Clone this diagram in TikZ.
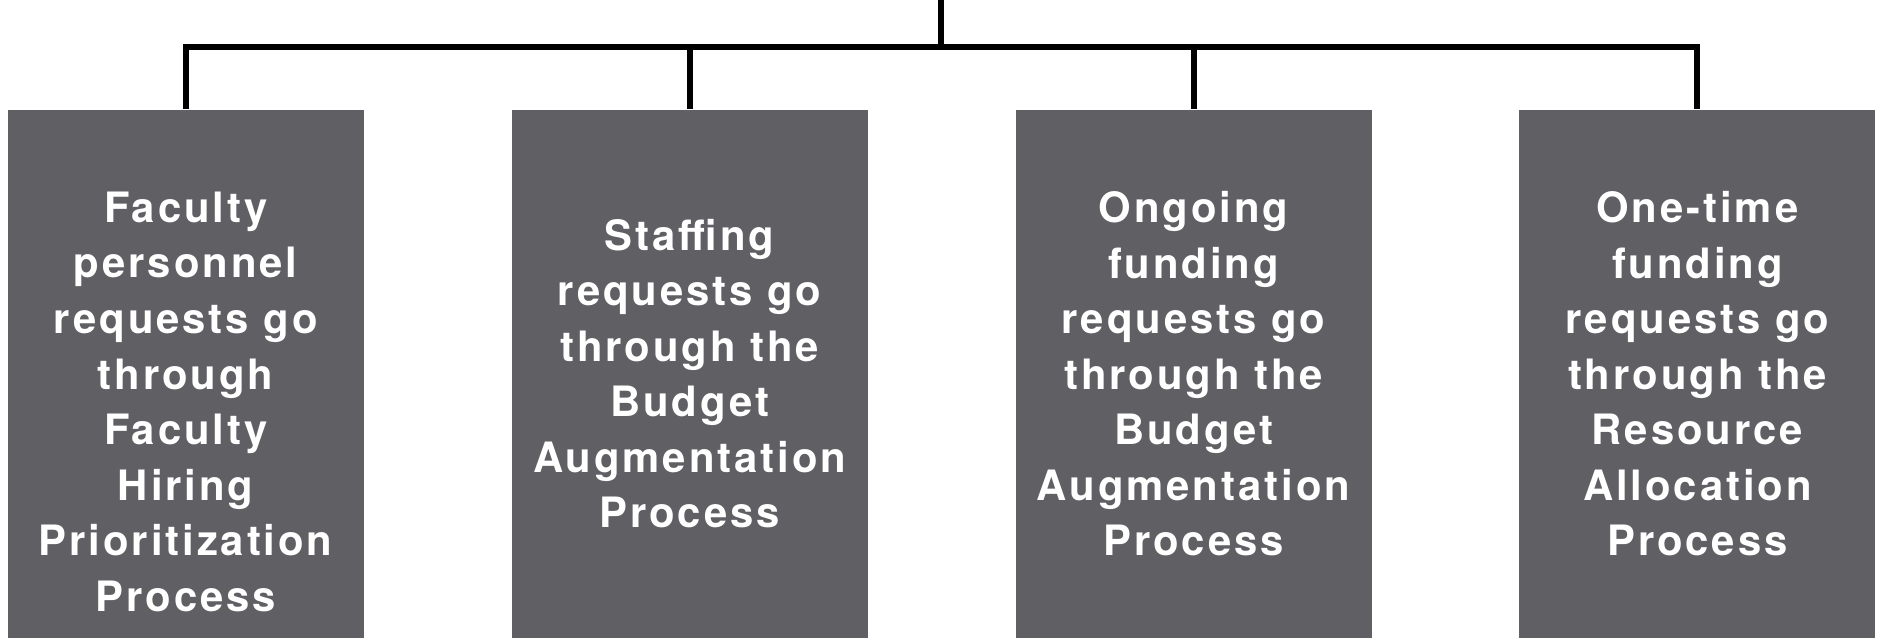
\documentclass[tikz,border=0pt]{standalone}
\usepackage{fontspec}
\setmainfont{TeX Gyre Heros}[LetterSpace=7]
\usepackage{tikz}
\usetikzlibrary{positioning,calc}
\definecolor{colorbox}  {RGB}{ 96, 95,100}
\definecolor{colortext} {RGB}{255,255,255}
\definecolor{colorline} {RGB}{  0,  0,  0}

\begin{document}
\begin{tikzpicture}[
    node distance = 1.465cm,
    base/.style={rectangle,inner sep=0pt,minimum width=3.56cm,minimum height=5.28cm,fill=colorbox},
    txt/.style={text=colortext,font={\fontsize{11.9}{15.8}\selectfont\bfseries},inner sep=0pt,align=center},
    link/.style={draw=colorline,line width=1.7pt},
]
    \useasboundingbox (0,0) rectangle (18.83,-6.37);

    \node[base,anchor=north west]  (faculty)  at (0.07,-1.09) {};
    \node[base,right=of faculty]   (staffing) {};
    \node[base,right=of staffing]  (ongoing)  {};
    \node[base,right=of ongoing]   (onetime)  {};

    \node[txt] (facultytext)  at ([yshift=-0.28cm]faculty.center) {Faculty\\personnel\\requests go\\through\\Faculty\\Hiring\\Prioritization\\Process};
    \node[txt] (staffingtext) at (staffing.center) {Staffing\\requests go\\through the\\Budget\\Augmentation\\Process};
    \node[txt] (ongoingtext)  at (ongoing.center)  {Ongoing\\funding\\requests go\\through the\\Budget\\Augmentation\\Process};
    \node[txt] (onetimetext)  at (onetime.center)  {One-time\\funding\\requests go\\through the\\Resource\\Allocation\\Process};

    % tree lines
    \coordinate (root) at (9.41,0);
    \coordinate (bar)  at (9.41,-0.47);
    \draw[link] (root) -- (bar);
    \draw[link] (faculty.north) |- (bar) -| (onetime.north);
    \draw[link] (staffing.north) -- (staffing.north |- bar);
    \draw[link] (ongoing.north) -- (ongoing.north |- bar);

\end{tikzpicture}
\end{document}
